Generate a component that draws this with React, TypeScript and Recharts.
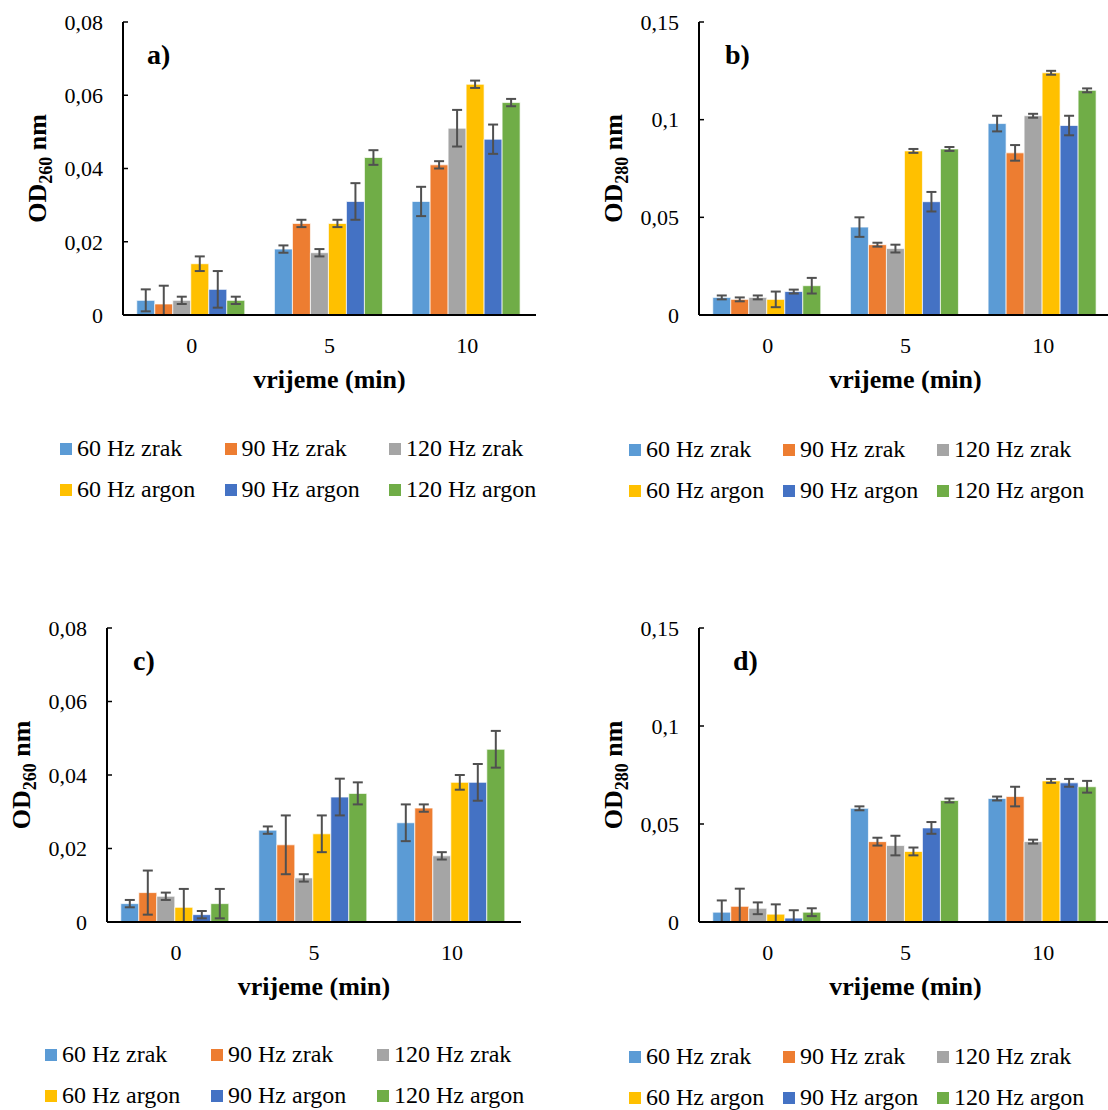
import React from 'react';
import {
  BarChart,
  Bar,
  XAxis,
  YAxis,
  ErrorBar,
  Legend,
  Customized,
} from 'recharts';

const FONT = '"Liberation Serif", "Times New Roman", serif';

const CATEGORIES = ['0', '5', '10'];
const SERIES = ['60 Hz zrak', '90 Hz zrak', '120 Hz zrak', '60 Hz argon', '90 Hz argon', '120 Hz argon'];
const COLORS = ['#5B9BD5', '#ED7D31', '#A5A5A5', '#FFC000', '#4472C4', '#70AD47'];

const TICKS_260 = [0, 0.02, 0.04, 0.06, 0.08];
const TICKS_280 = [0, 0.05, 0.1, 0.15];

// a) OD260, one row per series, values at 0 / 5 / 10 min
const A_VALUES = [
  [0.004, 0.018, 0.031],
  [0.003, 0.025, 0.041],
  [0.004, 0.017, 0.051],
  [0.014, 0.025, 0.063],
  [0.007, 0.031, 0.048],
  [0.004, 0.043, 0.058],
];
const A_ERRORS = [
  [0.003, 0.001, 0.004],
  [0.005, 0.001, 0.001],
  [0.001, 0.001, 0.005],
  [0.002, 0.001, 0.001],
  [0.005, 0.005, 0.004],
  [0.001, 0.002, 0.001],
];

// b) OD280
const B_VALUES = [
  [0.009, 0.045, 0.098],
  [0.008, 0.036, 0.083],
  [0.009, 0.034, 0.102],
  [0.008, 0.084, 0.124],
  [0.012, 0.058, 0.097],
  [0.015, 0.085, 0.115],
];
const B_ERRORS = [
  [0.001, 0.005, 0.004],
  [0.001, 0.001, 0.004],
  [0.001, 0.002, 0.001],
  [0.004, 0.001, 0.001],
  [0.001, 0.005, 0.005],
  [0.004, 0.001, 0.001],
];

// c) OD260
const C_VALUES = [
  [0.005, 0.025, 0.027],
  [0.008, 0.021, 0.031],
  [0.007, 0.012, 0.018],
  [0.004, 0.024, 0.038],
  [0.002, 0.034, 0.038],
  [0.005, 0.035, 0.047],
];
const C_ERRORS = [
  [0.001, 0.001, 0.005],
  [0.006, 0.008, 0.001],
  [0.001, 0.001, 0.001],
  [0.005, 0.005, 0.002],
  [0.001, 0.005, 0.005],
  [0.004, 0.003, 0.005],
];

// d) OD280
const D_VALUES = [
  [0.005, 0.058, 0.063],
  [0.008, 0.041, 0.064],
  [0.007, 0.039, 0.041],
  [0.004, 0.036, 0.072],
  [0.002, 0.048, 0.071],
  [0.005, 0.062, 0.069],
];
const D_ERRORS = [
  [0.006, 0.001, 0.001],
  [0.009, 0.002, 0.005],
  [0.003, 0.005, 0.001],
  [0.005, 0.002, 0.001],
  [0.004, 0.003, 0.002],
  [0.002, 0.001, 0.003],
];

function buildRows(values: number[][], errors: number[][]) {
  return CATEGORIES.map((cat, c) => {
    const row: Record<string, unknown> = { cat };
    values.forEach((vals, s) => {
      row[`s${s}`] = vals[c];
      // error bar stops at the axis
      row[`e${s}`] = [Math.min(errors[s][c], vals[c]), errors[s][c]];
    });
    return row;
  });
}

const fmt = (v: number) => (v === 0 ? '0' : String(v).replace('.', ','));

const Y_AXIS_W = 80;
const X_AXIS_H = 40;
const LINE = { stroke: '#000', strokeWidth: 2 };

interface PanelProps {
  letter: string;
  wave: string;
  rows: Record<string, unknown>[];
  ticks: number[];
  max: number;
  x0: number;
  y0: number;
  w: number;
  h: number;
  plotLeft: number;
  plotTop: number;
  plotWidth: number;
  plotHeight: number;
  letterX: number;
  legendLeft: number;
  legendTop: number;
  legendCol: number;
}

function Panel(p: PanelProps) {
  const margin = {
    left: p.plotLeft - p.x0 - Y_AXIS_W,
    top: p.plotTop - p.y0,
    right: p.w - (p.plotLeft - p.x0) - p.plotWidth,
    bottom: p.h - (p.plotTop - p.y0) - p.plotHeight - X_AXIS_H,
  };

  const xTitle = (props: any) => {
    const vb = props.viewBox;
    return (
      <text
        x={vb.x + vb.width / 2}
        y={vb.y + 73}
        textAnchor="middle"
        fontFamily={FONT}
        fontWeight="bold"
        fontSize={26}
        fill="#000"
      >
        vrijeme (min)
      </text>
    );
  };

  const yTitle = (props: any) => {
    const vb = props.viewBox;
    const cx = vb.x + vb.width - 77;
    const cy = vb.y + vb.height / 2;
    return (
      <text
        x={cx}
        y={cy}
        transform={`rotate(-90, ${cx}, ${cy})`}
        textAnchor="middle"
        fontFamily={FONT}
        fontWeight="bold"
        fontSize={26}
        fill="#000"
      >
        OD
        <tspan fontSize={18} dy={6}>
          {p.wave}
        </tspan>
        <tspan dy={-6}> nm</tspan>
      </text>
    );
  };

  const legendContent = () => (
    <div
      style={{
        display: 'grid',
        gridTemplateColumns: `repeat(3, ${p.legendCol}px)`,
        fontFamily: FONT,
        fontSize: 24,
        lineHeight: '41px',
        color: '#000',
        whiteSpace: 'nowrap',
      }}
    >
      {SERIES.map((name, i) => (
        <div key={name} style={{ display: 'flex', alignItems: 'center' }}>
          <span style={{ width: 12, height: 12, background: COLORS[i], marginRight: 5 }} />
          {name}
        </div>
      ))}
    </div>
  );

  return (
    <div style={{ position: 'absolute', left: p.x0, top: p.y0 }}>
      <BarChart
        width={p.w}
        height={p.h}
        data={p.rows}
        margin={margin}
        barCategoryGap="10%"
        barGap={0}
      >
        <XAxis
          dataKey="cat"
          height={X_AXIS_H}
          tickLine={false}
          tickSize={0}
          tickMargin={22}
          axisLine={LINE}
          tick={{ fill: '#000', fontSize: 22, fontFamily: FONT }}
          label={{ content: xTitle }}
        />
        <XAxis
          xAxisId="top"
          orientation="top"
          dataKey="cat"
          height={0}
          tick={false}
          tickLine={false}
          axisLine={LINE}
        />
        <YAxis
          width={Y_AXIS_W}
          domain={[0, p.max]}
          ticks={p.ticks}
          interval={0}
          tickFormatter={fmt}
          tickSize={-5}
          tickMargin={25}
          tickLine={{ stroke: '#000', strokeWidth: 1.5 }}
          axisLine={LINE}
          tick={{ fill: '#000', fontSize: 22, fontFamily: FONT }}
          label={{ content: yTitle }}
        />
        <YAxis
          yAxisId="right"
          orientation="right"
          width={0}
          domain={[0, 1]}
          tick={false}
          tickLine={false}
          axisLine={LINE}
        />
        {SERIES.map((name, i) => (
          <Bar
            key={name}
            dataKey={`s${i}`}
            name={name}
            fill={COLORS[i]}
            stroke="#fff"
            strokeWidth={0.7}
            isAnimationActive={false}
          >
            <ErrorBar dataKey={`e${i}`} width={5} stroke="#505050" strokeWidth={2} />
          </Bar>
        ))}
        <Legend
          layout="horizontal"
          verticalAlign="middle"
          align="center"
          wrapperStyle={{ left: p.legendLeft, top: p.legendTop, width: 540, height: 90 }}
          content={legendContent}
        />
        <Customized
          component={() => (
            <text
              x={p.letterX - p.x0}
              y={p.plotTop - p.y0 + 42}
              fontFamily={FONT}
              fontWeight="bold"
              fontSize={28}
              fill="#000"
            >
              {p.letter})
            </text>
          )}
        />
      </BarChart>
    </div>
  );
}

export default function App() {
  return (
    <div
      style={{
        position: 'absolute',
        left: 0,
        top: 0,
        width: 1108,
        height: 1110,
        overflow: 'hidden',
        background: '#fff',
        fontFamily: FONT,
      }}
    >
      <Panel
        letter="a"
        wave="260"
        rows={buildRows(A_VALUES, A_ERRORS)}
        ticks={TICKS_260}
        max={0.08}
        x0={0}
        y0={0}
        w={560}
        h={530}
        plotLeft={123}
        plotTop={22}
        plotWidth={413}
        plotHeight={293}
        letterX={147}
        legendLeft={60}
        legendTop={428}
        legendCol={164.5}
      />
      <Panel
        letter="b"
        wave="280"
        rows={buildRows(B_VALUES, B_ERRORS)}
        ticks={TICKS_280}
        max={0.15}
        x0={560}
        y0={0}
        w={560}
        h={530}
        plotLeft={699}
        plotTop={22}
        plotWidth={413}
        plotHeight={293}
        letterX={725}
        legendLeft={69}
        legendTop={429}
        legendCol={154}
      />
      <Panel
        letter="c"
        wave="260"
        rows={buildRows(C_VALUES, C_ERRORS)}
        ticks={TICKS_260}
        max={0.08}
        x0={0}
        y0={600}
        w={560}
        h={510}
        plotLeft={107}
        plotTop={628}
        plotWidth={414}
        plotHeight={294}
        letterX={133}
        legendLeft={45}
        legendTop={434}
        legendCol={166}
      />
      <Panel
        letter="d"
        wave="280"
        rows={buildRows(D_VALUES, D_ERRORS)}
        ticks={TICKS_280}
        max={0.15}
        x0={560}
        y0={600}
        w={560}
        h={510}
        plotLeft={699}
        plotTop={628}
        plotWidth={413}
        plotHeight={294}
        letterX={733}
        legendLeft={69}
        legendTop={436}
        legendCol={154}
      />
    </div>
  );
}
